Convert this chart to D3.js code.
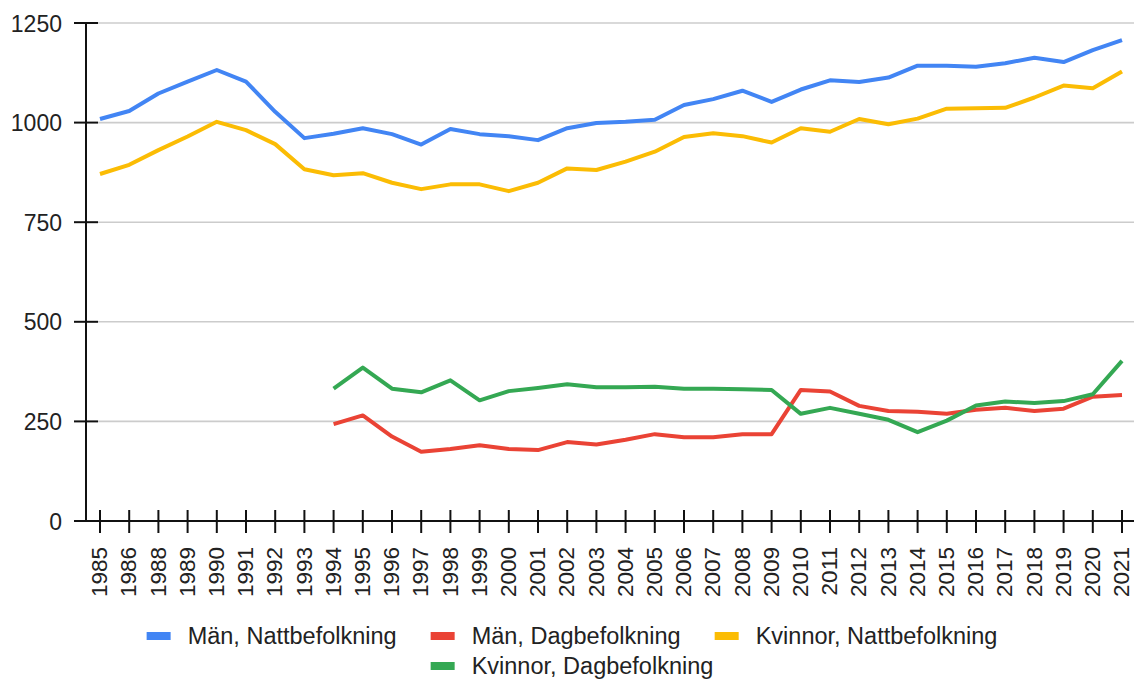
<!DOCTYPE html>
<html><head><meta charset="utf-8">
<script src="https://cdn.jsdelivr.net/npm/d3@7/dist/d3.min.js"></script>
<style>
html,body{margin:0;padding:0;background:#fff;}
text{font-family:"Liberation Sans",Arial,sans-serif;fill:#222;}
</style></head>
<body>
<svg id="chart" width="1134" height="680"></svg>
<script>
const years = ["1985","1986","1988","1989","1990","1991","1992","1993","1994","1995","1996","1997","1998","1999","2000","2001","2002","2003","2004","2005","2006","2007","2008","2009","2010","2011","2012","2013","2014","2015","2016","2017","2018","2019","2020","2021"];
const manNatt = [1009,1029,1073,1103,1132,1103,1027,961,972,986,971,945,984,971,966,956,986,999,1002,1007,1044,1059,1080,1052,1083,1106,1102,1113,1143,1143,1140,1149,1163,1152,1182,1207];
const manDag = [null,null,null,null,null,null,null,null,243,265,212,174,181,190,181,178,198,192,204,218,210,210,218,218,329,325,289,276,274,269,279,284,276,282,312,316];
const kvNatt = [871,894,931,965,1002,981,946,883,868,873,849,833,845,845,828,849,885,881,902,927,964,973,966,950,986,977,1009,996,1010,1035,1036,1037,1063,1093,1086,1128];
const kvDag = [null,null,null,null,null,null,null,null,332,385,332,323,353,303,326,334,343,336,336,337,332,332,331,329,269,284,269,254,223,252,290,300,296,301,318,402];
const seriesNames = ["Män, Nattbefolkning","Män, Dagbefolkning","Kvinnor, Nattbefolkning","Kvinnor, Dagbefolkning"];
const seriesColors = ["#4285F4","#EA4335","#FBBC04","#34A853"];
const yTicks = [0,250,500,750,1000,1250];

const seriesData = [manNatt, manDag, kvNatt, kvDag];
const svg = d3.select("#chart");
const x = d3.scalePoint().domain(years).range([100,1122]);
const y = d3.scaleLinear().domain([0,1250]).range([521,23]);
const axisX = 86, plotRight = 1134;

// gridlines
svg.append("g").selectAll("line").data(yTicks.filter(d=>d>0)).join("line")
  .attr("x1",98).attr("x2",plotRight)
  .attr("y1",d=>y(d)).attr("y2",d=>y(d))
  .attr("stroke","#cccccc").attr("stroke-width",1.6);

// y axis
const gy = svg.append("g").attr("transform",`translate(${axisX},0)`)
  .call(d3.axisLeft(y).tickValues(yTicks).tickSize(0).tickPadding(24).tickFormat(d3.format("d")));
gy.select(".domain").remove();
gy.selectAll("text").style("font-size","23px").attr("fill","#222").attr("dy","0.35em");
svg.append("line").attr("x1",axisX).attr("x2",axisX).attr("y1",y(1250)-1).attr("y2",y(0)+1).attr("stroke","#111").attr("stroke-width",2);
svg.append("g").selectAll("line").data(yTicks).join("line")
  .attr("x1",axisX-12).attr("x2",axisX+12).attr("y1",d=>y(d)).attr("y2",d=>y(d))
  .attr("stroke","#111").attr("stroke-width",2);

// x axis
const gx = svg.append("g").attr("transform",`translate(0,${y(0)})`)
  .call(d3.axisBottom(x).tickSize(0).tickPadding(0));
gx.select(".domain").remove();
gx.selectAll("text").style("font-size","22.5px").attr("fill","#222")
  .attr("transform","rotate(-90)").attr("text-anchor","end").attr("x",-26).attr("y",0).attr("dy","0.3em");
svg.append("line").attr("x1",axisX-12).attr("x2",plotRight).attr("y1",y(0)).attr("y2",y(0)).attr("stroke","#111").attr("stroke-width",2);
svg.append("g").selectAll("line").data(years).join("line")
  .attr("x1",d=>x(d)).attr("x2",d=>x(d)).attr("y1",y(0)-11).attr("y2",y(0)+12)
  .attr("stroke","#111").attr("stroke-width",2);

// lines
const line = d3.line().defined(d=>d.v!=null).x(d=>x(d.k)).y(d=>y(d.v));
seriesData.forEach((arr,i)=>{
  svg.append("path").datum(arr.map((v,j)=>({k:years[j],v})))
    .attr("fill","none").attr("stroke",seriesColors[i]).attr("stroke-width",4)
    .attr("stroke-linejoin","round").attr("d",line);
});

// legend (flow layout, centered)
const legend = svg.append("g");
const items = seriesNames.map((n,i)=>{
  const g = legend.append("g");
  g.append("rect").attr("width",24).attr("height",8).attr("y",-4).attr("fill",seriesColors[i]);
  const t = g.append("text").attr("x",41).attr("dy","0.36em").style("font-size","23.5px").text(n);
  return {g, w: 41 + t.node().getComputedTextLength()};
});
const maxW = 900, gap = 34, centerX = 572, rowY = [636,666];
let rows = [[]], cur = 0;
items.forEach(it=>{
  const r = rows[rows.length-1];
  const need = cur + (r.length?gap:0) + it.w;
  if (r.length && need > maxW) { rows.push([it]); cur = it.w; }
  else { r.push(it); cur = need; }
});
rows.forEach((r,ri)=>{
  const tot = d3.sum(r,d=>d.w) + gap*(r.length-1);
  let xx = centerX - tot/2;
  r.forEach(it=>{ it.g.attr("transform",`translate(${xx},${rowY[ri]})`); xx += it.w + gap; });
});
</script>
</body></html>
